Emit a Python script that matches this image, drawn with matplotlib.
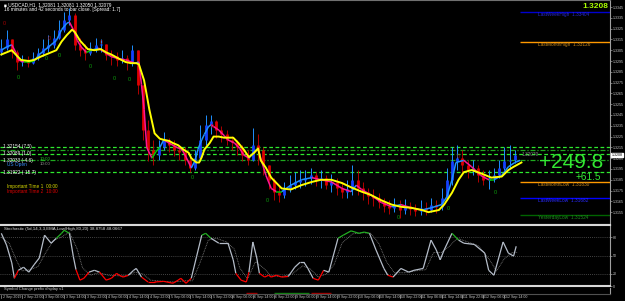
import numpy as np
import matplotlib
matplotlib.use("Agg")
import matplotlib.pyplot as plt
import matplotlib.transforms as mtransforms
from matplotlib.collections import LineCollection

plt.rcParams['font.family'] = ['Liberation Sans', 'DejaVu Sans']

# x is the H1 bar index, bar 0 = 2 Sep 14:00; candles shown every 2 bars
candle_bar = list(range(0, 198, 2))
open0 = 1.3303
close = [1.3307, 1.3315, 1.3303, 1.3294, 1.3296, 1.3293, 1.3298, 1.3302, 1.3307, 1.3310,
         1.3316, 1.3324, 1.3333, 1.3338, 1.3310, 1.3305, 1.3302, 1.3307, 1.3310, 1.3311,
         1.3301, 1.3300, 1.3296, 1.3298, 1.3294, 1.3305, 1.3273, 1.3231, 1.3213, 1.3208,
         1.3215, 1.3222, 1.3217, 1.3213, 1.3211, 1.3203, 1.3196, 1.3205, 1.3222, 1.3236,
         1.3239, 1.3231, 1.3227, 1.3222, 1.3220, 1.3215, 1.3208, 1.3203, 1.3217, 1.3213,
         1.3199, 1.3185, 1.3174, 1.3171, 1.3176, 1.3180, 1.3183, 1.3185, 1.3187, 1.3189,
         1.3185, 1.3187, 1.3180, 1.3183, 1.3177, 1.3174, 1.3176, 1.3185, 1.3177, 1.3174,
         1.3170, 1.3168, 1.3164, 1.3161, 1.3159, 1.3162, 1.3157, 1.3161, 1.3158, 1.3156,
         1.3159, 1.3157, 1.3162, 1.3160, 1.3168, 1.3185, 1.3202, 1.3205, 1.3199, 1.3194,
         1.3196, 1.3189, 1.3185, 1.3187, 1.3189, 1.3196, 1.3202, 1.3203, 1.3208]
high = [1.3315, 1.3324, 1.3310, 1.3305, 1.3301, 1.3300, 1.3303, 1.3307, 1.3315, 1.3319,
        1.3324, 1.3333, 1.3340, 1.3344, 1.3339, 1.3316, 1.3311, 1.3313, 1.3316, 1.3315,
        1.3310, 1.3305, 1.3303, 1.3305, 1.3301, 1.3310, 1.3305, 1.3273, 1.3240, 1.3222,
        1.3222, 1.3229, 1.3224, 1.3222, 1.3217, 1.3215, 1.3208, 1.3213, 1.3236, 1.3245,
        1.3245, 1.3240, 1.3235, 1.3231, 1.3226, 1.3222, 1.3217, 1.3213, 1.3233, 1.3227,
        1.3215, 1.3199, 1.3187, 1.3180, 1.3183, 1.3189, 1.3192, 1.3194, 1.3194, 1.3196,
        1.3192, 1.3194, 1.3189, 1.3190, 1.3187, 1.3183, 1.3185, 1.3199, 1.3194, 1.3183,
        1.3177, 1.3176, 1.3173, 1.3168, 1.3166, 1.3168, 1.3166, 1.3167, 1.3164, 1.3163,
        1.3166, 1.3164, 1.3168, 1.3166, 1.3177, 1.3196, 1.3215, 1.3217, 1.3213, 1.3203,
        1.3203, 1.3199, 1.3194, 1.3194, 1.3196, 1.3203, 1.3215, 1.3217, 1.3213]
low = [1.3301, 1.3305, 1.3298, 1.3287, 1.3290, 1.3289, 1.3292, 1.3296, 1.3300, 1.3303,
       1.3307, 1.3315, 1.3322, 1.3328, 1.3305, 1.3300, 1.3296, 1.3301, 1.3303, 1.3303,
       1.3296, 1.3291, 1.3290, 1.3293, 1.3287, 1.3290, 1.3264, 1.3222, 1.3202, 1.3199,
       1.3203, 1.3213, 1.3211, 1.3207, 1.3203, 1.3199, 1.3192, 1.3194, 1.3202, 1.3217,
       1.3227, 1.3224, 1.3220, 1.3217, 1.3213, 1.3208, 1.3202, 1.3199, 1.3202, 1.3199,
       1.3189, 1.3176, 1.3166, 1.3164, 1.3168, 1.3174, 1.3176, 1.3177, 1.3179, 1.3181,
       1.3179, 1.3177, 1.3176, 1.3174, 1.3171, 1.3168, 1.3168, 1.3171, 1.3171, 1.3166,
       1.3163, 1.3161, 1.3159, 1.3155, 1.3153, 1.3155, 1.3150, 1.3153, 1.3152, 1.3151,
       1.3152, 1.3152, 1.3155, 1.3154, 1.3157, 1.3166, 1.3180, 1.3194, 1.3192, 1.3187,
       1.3189, 1.3183, 1.3180, 1.3176, 1.3183, 1.3187, 1.3194, 1.3196, 1.3201]

# fast (coloured) and slow (yellow) moving averages
fast_bar = [0, 2, 4, 5.5, 6.5, 8.5, 10.5, 12.5, 14.5, 16.5, 19, 21, 23, 25, 26, 27.5, 29, 30.5, 32.5, 34.5,
            37, 39.5, 42, 45, 47.5, 51, 52.5, 53.5, 54.5, 55.5, 57.5, 59, 60.5, 62, 64, 67, 69, 70.5, 72.5, 74,
            75, 76.5, 77.5, 79, 80, 83, 85, 86.5, 89, 91, 92.5, 94.5, 96.5, 98, 99, 101, 103, 105, 107, 110.5,
            114.5, 118.5, 122, 126, 130, 133.5, 135.5, 137.5, 141, 145, 149, 152.5, 156.5, 160.5, 164, 168, 170,
            172, 173.5, 176.5, 179.5, 183, 186, 188, 191, 193.5, 196, 198]
fast_val = [1.3305, 1.3308, 1.3310, 1.3303, 1.3296, 1.3294, 1.3294, 1.3295, 1.3301, 1.3305,
            1.3310, 1.3314, 1.3324, 1.3330, 1.3331, 1.3324, 1.3314, 1.3308, 1.3303, 1.3305,
            1.3307, 1.3303, 1.3299, 1.3297, 1.3296, 1.3293, 1.3294, 1.3273, 1.3250, 1.3215,
            1.3205, 1.3211, 1.3215, 1.3222, 1.3219, 1.3215, 1.3213, 1.3206, 1.3196, 1.3203,
            1.3213, 1.3222, 1.3227, 1.3234, 1.3236, 1.3231, 1.3226, 1.3222, 1.3219, 1.3214,
            1.3208, 1.3205, 1.3211, 1.3214, 1.3205, 1.3189, 1.3177, 1.3174, 1.3174, 1.3180,
            1.3185, 1.3187, 1.3185, 1.3183, 1.3177, 1.3174, 1.3180, 1.3176, 1.3171, 1.3164,
            1.3160, 1.3162, 1.3159, 1.3157, 1.3159, 1.3162, 1.3169, 1.3185, 1.3201, 1.3203,
            1.3197, 1.3189, 1.3185, 1.3185, 1.3189, 1.3197, 1.3201, 1.3203]
slow_bar = [0, 2, 4, 5.5, 7.5, 10.5, 12.5, 15, 17, 19, 21, 23, 25, 27, 28, 30, 31.5, 33, 35.5, 38,
            40, 42, 45, 47.5, 49.5, 51.5, 52.5, 54.5, 56.5, 58.5, 60.5, 62, 64, 65.5, 67.5, 69.5, 71.5, 72.5,
            74.5, 75.5, 76.5, 77.5, 79.5, 81, 83, 85, 88.5, 90.5, 92.5, 94.5, 96.5, 98, 99, 101, 103, 107,
            110.5, 114.5, 118.5, 122, 126, 130, 133.5, 137.5, 141, 145, 149, 152.5, 156.5, 160.5, 163, 167,
            169, 172, 174.5, 176.5, 179.5, 183, 187, 191, 193.5, 195.5, 198.5]
slow_val = [1.3301, 1.3303, 1.3305, 1.3301, 1.3296, 1.3295, 1.3296, 1.3299, 1.3301, 1.3303,
            1.3305, 1.3313, 1.3319, 1.3324, 1.3322, 1.3314, 1.3310, 1.3306, 1.3305, 1.3306,
            1.3303, 1.3301, 1.3297, 1.3294, 1.3293, 1.3293, 1.3292, 1.3277, 1.3250, 1.3228,
            1.3223, 1.3222, 1.3221, 1.3219, 1.3217, 1.3213, 1.3210, 1.3205, 1.3201, 1.3201,
            1.3206, 1.3213, 1.3219, 1.3225, 1.3225, 1.3224, 1.3224, 1.3219, 1.3213, 1.3206,
            1.3210, 1.3214, 1.3203, 1.3196, 1.3187, 1.3177, 1.3176, 1.3180, 1.3183, 1.3185,
            1.3185, 1.3182, 1.3178, 1.3174, 1.3171, 1.3166, 1.3162, 1.3160, 1.3159, 1.3157,
            1.3155, 1.3157, 1.3162, 1.3173, 1.3185, 1.3192, 1.3194, 1.3191, 1.3187, 1.3188,
            1.3194, 1.3197, 1.3201]

# fractal "0" marks
up_mark_bar = [6.5, 17, 22, 34, 43, 49, 73, 101.5, 151.5, 170.5, 188.5]
up_mark_val = [1.3280, 1.3297, 1.3300, 1.3290, 1.3279, 1.3278, 1.3187, 1.3166, 1.3150, 1.3158, 1.3173]
dn_mark_bar = [1, 18.5, 38, 80.5, 174.5]
dn_mark_val = [1.3330, 1.3316, 1.3312, 1.3234, 1.3207]

# dashed green levels and their labels
level_prices = [1.32154, 1.32126, 1.32089, 1.32033, 1.31922]
level_labels = ['1.32154 (7.5)', '', '1.32089 (1.0)', '1.32033 (-4.6)', '1.31922 (-15.7)']

# reference lines on the right
ref_names = ['LastWeekHigh', 'LastMonthHigh', 'LastMonthLow', 'LastWeekLow', 'YesterdayLow']
ref_prices = [1.33404, 1.33126, 1.31830, 1.31682, 1.31524]
ref_colors = ['#0000d0', '#ff9900', '#ff9900', '#0000ff', '#006400']
ref_text_colors = ['#2a2ad0', '#c88a20', '#c88a20', '#2a2aff', '#1e8c1e']

current_price = 1.32079

# stochastic
stoch_bar = [0, 2, 4, 5, 6.5, 8.5, 10.5, 12.5, 14.5, 16.5, 19, 21, 23, 24, 26, 27.5, 28.5, 30, 31.5, 33.5,
             35.5, 37.5, 40, 42, 44, 45, 46.5, 48.5, 50.5, 51.5, 53.5, 56, 58.5, 62, 65.5, 67.5, 68.5, 70.5,
             72.5, 74.5, 76.5, 78, 80, 83, 86.5, 88.5, 89.5, 91.5, 93.5, 94.5, 96, 97.5, 98.5, 100.5, 102,
             103, 105, 107, 109.5, 112, 114, 115.5, 117, 119, 121, 123, 125, 128.5, 130.5, 133.5, 136.5,
             138.5, 140.5, 143, 146, 147.5, 149.5, 152.5, 155.5, 157.5, 161, 164, 166, 167.5, 169, 172,
             174.5, 176.5, 180.5, 184.5, 186, 188, 191.5, 193.5, 195.5, 196.5]
stoch_val = [86, 67, 38, 13, 26, 31, 23, 35, 46, 83, 70, 78, 86, 91, 86, 48, 27, 10, 13, 23,
             26, 23, 10, 13, 21, 18, 15, 18, 26, 29, 15, 7, 7, 8, 5, 10, 13, 5, 13, 48,
             83, 86, 78, 70, 70, 43, 21, 10, 7, 23, 72, 46, 21, 15, 18, 15, 18, 15, 16, 31,
             39, 39, 29, 13, 10, 26, 23, 78, 83, 90, 86, 88, 86, 59, 29, 18, 15, 29, 23, 26,
             29, 75, 59, 43, 59, 86, 75, 70, 68, 54, 26, 18, 72, 54, 49, 65]
signal_bar = [0, 3, 6, 8, 11, 14, 17, 20, 23, 26, 29, 31, 34, 37, 41, 45, 48, 51, 54, 57,
              62, 66, 70, 73, 76, 79, 82, 86, 89, 91, 94, 97, 100, 103, 107, 111, 115, 118, 121, 124,
              127, 130, 134, 138, 141, 144, 147, 150, 154, 158, 162, 165, 168, 171, 174, 178, 182, 186,
              189, 192, 195, 197]
signal_val = [80, 70, 40, 25, 27, 32, 55, 75, 80, 88, 60, 30, 18, 22, 18, 17, 17, 23, 20, 10,
              8, 7, 9, 9, 40, 75, 78, 72, 60, 30, 12, 40, 30, 17, 16, 20, 33, 28, 15, 20,
              35, 70, 85, 87, 86, 70, 40, 22, 22, 25, 27, 55, 55, 65, 78, 72, 66, 45,
              25, 45, 55, 55]
stoch_levels = [80, 50, 20]

# symbol-change strip segments
strip_start = [93.5, 104, 118]
strip_end = [97.5, 117.5, 126]
strip_color = ['#a00000', '#108010', '#a00000']

time_labels = ['2 Sep 2019', '2 Sep 22:00', '3 Sep 06:00', '3 Sep 14:00', '3 Sep 22:00',
               '4 Sep 06:00', '4 Sep 14:00', '4 Sep 22:00', '5 Sep 06:00', '5 Sep 14:00',
               '5 Sep 22:00', '6 Sep 06:00', '6 Sep 14:00', '6 Sep 22:00', '9 Sep 06:00',
               '9 Sep 14:00', '9 Sep 22:00', '10 Sep 06:00', '10 Sep 14:00', '10 Sep 22:00',
               '11 Sep 06:00', '11 Sep 14:00', '11 Sep 22:00', '12 Sep 06:00', '12 Sep 14:00']
time_label_bar = list(range(0, 8 * len(time_labels), 8))

XMIN, XMAX = -0.5, 232.3

fig = plt.figure(figsize=(6.25, 3.01), dpi=100, facecolor='black')

# ---------------- price window ----------------
ax = fig.add_axes([0, 0.2535, 0.976, 0.7465], facecolor='black')
ax.set_xlim(XMIN, XMAX)
ax.set_ylim(1.31434, 1.33515)

opens = np.r_[open0, close[:-1]]
closes = np.array(close)
highs = np.maximum(np.array(high), np.maximum(opens, closes))
lows = np.minimum(np.array(low), np.minimum(opens, closes))
bull = closes >= opens
body_col = np.where(bull, '#1440ff', '#e00000')
wick_col = np.where(bull, '#1e90ff', '#b00000')
ax.vlines(candle_bar, lows, highs, colors=wick_col, lw=0.7, zorder=2)
ax.vlines(candle_bar, opens, closes, colors=body_col, lw=2.0, zorder=2)

for i, p in enumerate(level_prices):
    if i % 2 == 0:
        ax.axhline(p, color='#2ee82e', lw=0.9, ls=(0, (3, 2)), zorder=1)
    else:
        ax.axhline(p, color='#1fa81f', lw=0.9, ls=(0, (4, 1.5, 1, 1.5)), zorder=1)
lbl_tr = mtransforms.blended_transform_factory(ax.transAxes, ax.transData)
for p, t in zip(level_prices, level_labels):
    if t:
        ax.text(0.005, p, t, transform=lbl_tr, color='white', fontsize=3.4,
                va='center', ha='left', zorder=5)
ax.text(0.065, 1.32045, '10:00', transform=lbl_tr, color='#22cc22', fontsize=3.2, va='center')
ax.text(0.012, 1.31995, 'US Open', transform=lbl_tr, color='#3a8fff', fontsize=3.4, va='center')
ax.text(0.065, 1.31995, '10:00', transform=lbl_tr, color='#909090', fontsize=3.2, va='center')

# moving averages
slow_at_fast = np.interp(fast_bar, slow_bar, slow_val)
pts = np.column_stack([fast_bar, fast_val])
segs = np.stack([pts[:-1], pts[1:]], axis=1)
seg_cols = []
for i in range(len(segs)):
    if fast_val[i + 1] < fast_val[i]:
        seg_cols.append('#ff1493')
    elif fast_val[i + 1] < slow_at_fast[i + 1]:
        seg_cols.append('#00c800')
    else:
        seg_cols.append('#1e90ff')
ax.add_collection(LineCollection(segs, colors=seg_cols, lw=1.1, zorder=3))
ax.plot(slow_bar, slow_val, color='#ffff00', lw=1.4, zorder=3)

for b, v in zip(up_mark_bar, up_mark_val):
    ax.text(b, v, '0', color='#0a9a0a', fontsize=4, ha='center', va='center', zorder=4)
for b, v in zip(dn_mark_bar, dn_mark_val):
    ax.text(b, v, '0', color='#a00000', fontsize=4, ha='center', va='center', zorder=4)

# reference lines on the right
for n, p, c, tc in zip(ref_names, ref_prices, ref_colors, ref_text_colors):
    ax.hlines(p, 198, XMAX, colors=c, lw=1.0, zorder=2)
    ax.text(205, p - 0.00003, f'{n}  {p:.5f}', color=tc, fontsize=3.4, va='top', ha='left')

ax.text(217.6, 1.32006, '+249.8', color='#33e833', fontsize=15, ha='center', va='center')
ax.text(229, 1.31880, '+61.5', color='#33e833', fontsize=7.2, ha='right', va='center')
ax.text(198.5, 1.32085, f'{current_price:.5f}', color='#8a8a8a', fontsize=3.4, ha='left', va='center')
ax.text(0.998, 0.988, '1.3208', transform=ax.transAxes, color='#aaff00', fontsize=6,
        fontweight='bold', ha='right', va='top')

ax.text(0.006, 0.992, '\u25a0 USDCAD,H1  1.32081 1.32081 1.32050 1.32079', transform=ax.transAxes,
        color='white', fontsize=3.4, ha='left', va='top')
ax.text(0.006, 0.968, '16 minutes and 42 seconds to bar close. [Spread: 1.7]', transform=ax.transAxes,
        color='white', fontsize=3.4, ha='left', va='top')
ax.text(0.0115, 0.172, 'Important Time 1  00:00', transform=ax.transAxes, color='#d8d800',
        fontsize=3.4, va='center')
ax.text(0.0115, 0.146, 'Important Time 2  10:00', transform=ax.transAxes, color='#e00000',
        fontsize=3.4, va='center')

price_ticks = np.round(np.arange(1.3155, 1.33451, 0.0010), 4)
ax.yaxis.tick_right()
ax.set_yticks(price_ticks)
ax.set_yticklabels([f'{v:.4f}' for v in price_ticks])
ax.tick_params(axis='y', colors='#a0a0a0', labelcolor='#c8c8c8', labelsize=2.6, length=1.5,
               width=0.5, pad=0.6)
ax.set_xticks([])
ax.spines['left'].set_visible(False)
ax.spines['top'].set_color('#707070')
ax.spines['right'].set_color('#a0a0a0')
ax.spines['right'].set_linewidth(0.8)
ax.spines['bottom'].set_color('#d8d8d8')
ax.spines['bottom'].set_linewidth(1.5)
ax.text(1.003, current_price, f'{current_price:.4f}', transform=lbl_tr, color='black',
        fontsize=2.6, va='center', ha='left',
        bbox=dict(boxstyle='square,pad=0.12', fc='white', ec='white'))

# ---------------- stochastic window ----------------
ax2 = fig.add_axes([0, 0.0488, 0.976, 0.2047], facecolor='black')
ax2.set_xlim(XMIN, XMAX)
ax2.set_ylim(0, 100)
for lv in stoch_levels:
    ax2.axhline(lv, color='#5a5a5a', lw=0.6, ls=(0, (1, 1.5)))
ax2.plot(signal_bar, signal_val, color='#808080', lw=0.6, ls=(0, (1, 1)))
spts = np.column_stack([stoch_bar, stoch_val])
ssegs = np.stack([spts[:-1], spts[1:]], axis=1)
scols = []
for i in range(len(ssegs)):
    mid = (stoch_val[i] + stoch_val[i + 1]) / 2
    if mid >= 80:
        scols.append('#22b022')
    elif mid <= 20:
        scols.append('#ff0000')
    else:
        scols.append('#b4bcc8')
ax2.add_collection(LineCollection(ssegs, colors=scols, lw=0.9))
ax2.text(0.006, 0.96, 'Stochastic (5d,14,3,3,EMA,Low/High,80,20) 38.8758 48.0667',
         transform=ax2.transAxes, color='#e0e0e0', fontsize=3.2, ha='left', va='top')
ax2.yaxis.tick_right()
ax2.set_yticks([0, 20, 50, 80])
ax2.tick_params(axis='y', colors='#a0a0a0', labelcolor='#c8c8c8', labelsize=2.6, length=1.5,
                width=0.5, pad=0.6)
ax2.set_xticks([])
ax2.spines['left'].set_visible(False)
for s in ['top', 'bottom']:
    ax2.spines[s].set_color('#d8d8d8')
    ax2.spines[s].set_linewidth(1.5)
ax2.spines['right'].set_color('#a0a0a0')
ax2.spines['right'].set_linewidth(0.8)

# ---------------- symbol change strip ----------------
ax3 = fig.add_axes([0, 0.0233, 0.976, 0.02], facecolor='black')
ax3.set_xlim(XMIN, XMAX)
ax3.set_ylim(0, 1)
ax3.text(0.006, 0.75, 'Symbol Change prefix display v1', transform=ax3.transAxes,
         color='#d0d0d0', fontsize=3.0, ha='left', va='center')
ax3.hlines([0.12] * len(strip_start), strip_start, strip_end, colors=strip_color, lw=1.0)
ax3.set_xticks([])
ax3.set_yticks([])
ax3.spines['left'].set_visible(False)
ax3.spines['top'].set_visible(False)
ax3.spines['bottom'].set_color('#505050')
ax3.spines['right'].set_color('#a0a0a0')
ax3.spines['right'].set_linewidth(0.8)

tl_tr = mtransforms.blended_transform_factory(ax3.transData, fig.transFigure)
for b, t in zip(time_label_bar, time_labels):
    ax3.plot([b, b], [0.021, 0.010], transform=tl_tr, color='#a0a0a0', lw=0.5, clip_on=False)
    ax3.text(b + 0.6, 0.012, t, transform=tl_tr, color='#c8c8c8', fontsize=2.6,
             ha='left', va='center', clip_on=False)

fig.savefig('out.png', dpi=100, facecolor='black')
